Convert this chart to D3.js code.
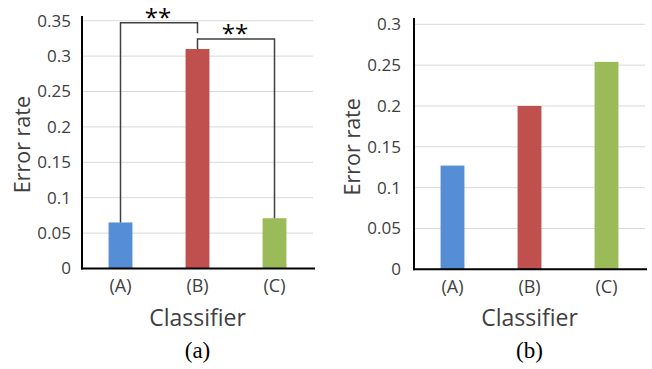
<!DOCTYPE html>
<html>
<head>
<meta charset="utf-8">
<script src="https://cdn.jsdelivr.net/npm/d3@7"></script>
<style>
body { margin: 0; background: #fff; }
svg text { font-family: "Open Sans", "Noto Sans", sans-serif; fill: #404040; }
</style>
</head>
<body>
<div id="chart"></div>
<script>
var classifiers = ["(A)", "(B)", "(C)"];
var colors = ["#558ed5", "#c0504d", "#9bbb59"];
var errorA = [0.065, 0.31, 0.071];
var errorB = [0.127, 0.2, 0.254];
var ticksA = [0, 0.05, 0.1, 0.15, 0.2, 0.25, 0.3, 0.35];
var ticksB = [0, 0.05, 0.1, 0.15, 0.2, 0.25, 0.3];
// significance brackets on (a): which bars, bracket level
var brackets = [
    {from: 0, to: 1, y: 0.347, label: "**"},
    {from: 1, to: 2, y: 0.324, label: "**"}
];

var w = 652;
var h = 369;

var svg = d3.select("div#chart")
    .append("svg")
    .attr("width", w)
    .attr("height", h);

function drawPanel(opts){
    var g = svg.append("g");

    var x = d3.scaleBand()
        .domain(classifiers)
        .range([opts.left, opts.right])
        .paddingInner(0.69)
        .paddingOuter(0.345);

    var y = d3.scaleLinear()
        .domain([0, opts.max])
        .range([opts.bottom, opts.top]);

    // gridlines
    g.selectAll("line.grid")
        .data(opts.ticks.slice(1))
        .enter()
        .append("line")
        .attr("x1", opts.left)
        .attr("x2", opts.right)
        .attr("y1", function(d){ return y(d); })
        .attr("y2", function(d){ return y(d); })
        .attr("stroke", "#d9d9d9")
        .attr("stroke-width", 1);

    // bars
    g.selectAll("rect")
        .data(opts.values)
        .enter()
        .append("rect")
        .attr("x", function(d, i){ return x(classifiers[i]); })
        .attr("y", function(d){ return y(d); })
        .attr("width", x.bandwidth())
        .attr("height", function(d){ return y(0) - y(d); })
        .attr("fill", function(d, i){ return colors[i]; });

    // y axis (labels only, no tick marks)
    var yAxis = d3.axisLeft(y)
        .tickValues(opts.ticks)
        .tickSize(0)
        .tickPadding(opts.pad)
        .tickFormat(function(d){ return d3.format("")(+d.toFixed(2)); });
    var ya = g.append("g")
        .attr("transform", "translate(" + opts.left + ",0)")
        .call(yAxis);
    ya.select(".domain").remove();
    ya.selectAll("text").style("font-size", "17px");

    var xAxis = d3.axisBottom(x).tickSize(0).tickPadding(11);
    var xa = g.append("g")
        .attr("transform", "translate(0," + opts.bottom + ")")
        .call(xAxis);
    xa.select(".domain").remove();
    xa.selectAll("text").style("font-size", "18px");

    // axis lines
    g.append("line")
        .attr("x1", opts.left).attr("x2", opts.left)
        .attr("y1", opts.axisTop).attr("y2", opts.bottom + 1)
        .attr("stroke", "#000").attr("stroke-width", 2);
    g.append("line")
        .attr("x1", opts.left - 1).attr("x2", opts.right + 2)
        .attr("y1", opts.bottom).attr("y2", opts.bottom)
        .attr("stroke", "#000").attr("stroke-width", 2);

    // titles
    g.append("text")
        .attr("transform", "translate(" + opts.ytx + "," + (opts.top + opts.bottom) / 2 + ") rotate(-90)")
        .attr("text-anchor", "middle")
        .attr("dominant-baseline", "middle")
        .style("font-size", "21.5px")
        .text("Error rate");

    g.append("text")
        .attr("x", (opts.left + opts.right) / 2)
        .attr("y", opts.bottom + 57)
        .attr("text-anchor", "middle")
        .style("font-size", "23px")
        .text("Classifier");

    g.append("text")
        .attr("x", (opts.left + opts.right) / 2)
        .attr("y", opts.bottom + 89)
        .attr("text-anchor", "middle")
        .style("font-family", "'Liberation Serif', 'DejaVu Serif', serif")
        .style("font-size", "23px")
        .style("fill", "#000")
        .text(opts.caption);

    return {x: x, y: y, g: g};
}

var left = drawPanel({
    left: 82, right: 313, top: 20.7, bottom: 268.5, axisTop: 16,
    max: 0.35, ticks: ticksA, values: errorA, pad: 11, ytx: 24, caption: "(a)"
});

var right = drawPanel({
    left: 414, right: 645, top: 24.3, bottom: 269.3, axisTop: 18,
    max: 0.3, ticks: ticksB, values: errorB, pad: 13, ytx: 354, caption: "(b)"
});

// significance brackets on panel (a)
var bx = function(i){ return left.x(classifiers[i]) + left.x.bandwidth() / 2; };
brackets.forEach(function(b, k){
    var pts;
    if (k == 0) {
        // left leg down to bar A, short drop at B
        pts = [[bx(b.from), left.y(errorA[b.from])], [bx(b.from), left.y(b.y)],
               [bx(b.to), left.y(b.y)], [bx(b.to), left.y(b.y) + 10.5]];
    } else {
        pts = [[bx(b.from), left.y(errorA[b.from])], [bx(b.from), left.y(b.y)],
               [bx(b.to), left.y(b.y)], [bx(b.to), left.y(errorA[b.to])]];
    }
    left.g.append("path")
        .attr("d", d3.line()(pts))
        .attr("fill", "none")
        .attr("stroke", "#404040")
        .attr("stroke-width", 1.5);
    left.g.append("text")
        .attr("x", (bx(b.from) + bx(b.to)) / 2 - 1)
        .attr("y", left.y(b.y) + 3)
        .attr("text-anchor", "middle")
        .style("font-size", "24px")
        .style("fill", "#000")
        .text(b.label);
});
</script>
</body>
</html>
